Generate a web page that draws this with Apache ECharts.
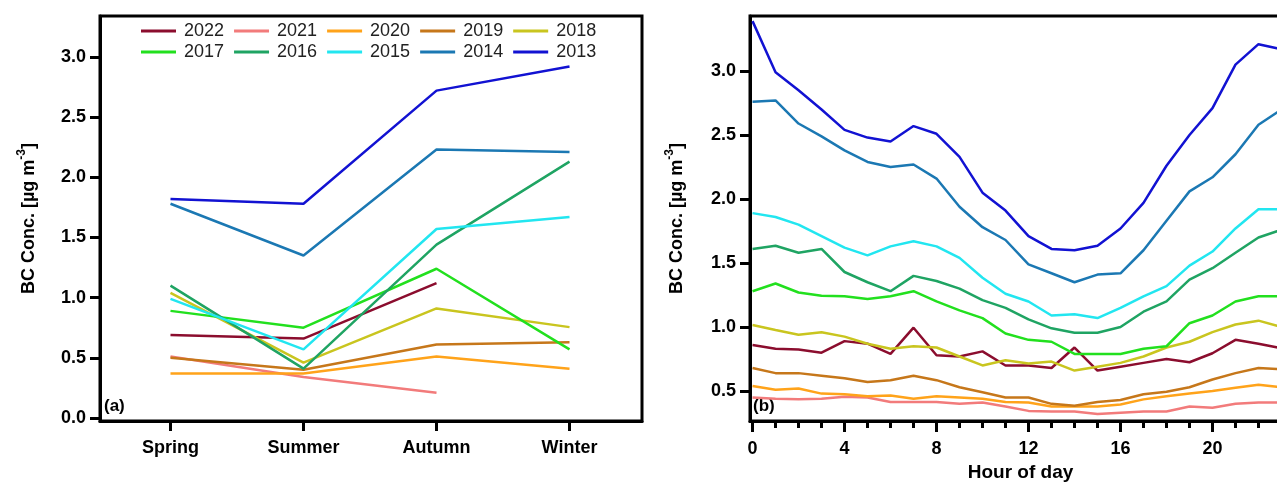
<!DOCTYPE html>
<html>
<head>
<meta charset="utf-8">
<title>BC concentration by season and hour</title>
<script src="https://cdn.jsdelivr.net/npm/echarts@6/dist/echarts.min.js"></script>
<style>
    html, body { margin: 0; padding: 0; background: #fff; overflow: hidden; }
    #bc_chart { width: 1330px; height: 482px; }
</style>
</head>
<body>
<div id="bc_chart"></div>
<script>

// Data
// ------------------------------

var seasons = ['Spring', 'Summer', 'Autumn', 'Winter'];
var years = ['2022', '2021', '2020', '2019', '2018', '2017', '2016', '2015', '2014', '2013'];
var concTicksA = [0, 0.5, 1, 1.5, 2, 2.5, 3];
var concTicksB = [0.5, 1, 1.5, 2, 2.5, 3];
var hourTicks = [0, 4, 8, 12, 16, 20, 24];
var hourMinorTicks = [0, 1, 2, 3, 4, 5, 6, 7, 8, 9, 10, 11, 12, 13, 14, 15, 16, 17, 18, 19, 20, 21, 22, 23, 24];
var hours = [0, 1, 2, 3, 4, 5, 6, 7, 8, 9, 10, 11, 12, 13, 14, 15, 16, 17, 18, 19, 20, 21, 22, 23];

// seasonal mean, Spring..Winter (null = no data)
var season2022 = [0.69, 0.66, 1.12, null];
var season2021 = [0.51, 0.34, 0.21, null];
var season2020 = [0.37, 0.37, 0.51, 0.41];
var season2019 = [0.50, 0.40, 0.61, 0.63];
var season2018 = [1.04, 0.46, 0.91, 0.755];
var season2017 = [0.89, 0.75, 1.24, 0.57];
var season2016 = [1.10, 0.41, 1.44, 2.13];
var season2015 = [0.99, 0.57, 1.57, 1.67];
var season2014 = [1.78, 1.35, 2.23, 2.21];
var season2013 = [1.82, 1.78, 2.72, 2.92];

// diurnal mean, hour 0..23
var hourly2022 = [0.86, 0.83, 0.825, 0.80, 0.89, 0.87, 0.79, 0.995, 0.78, 0.77, 0.81, 0.70, 0.70, 0.68, 0.84, 0.66, 0.69, 0.72, 0.75, 0.725, 0.795, 0.90, 0.87, 0.835];
var hourly2021 = [0.45, 0.44, 0.435, 0.44, 0.455, 0.45, 0.415, 0.415, 0.415, 0.40, 0.41, 0.38, 0.345, 0.34, 0.34, 0.32, 0.33, 0.34, 0.34, 0.38, 0.37, 0.40, 0.41, 0.41];
var hourly2020 = [0.54, 0.51, 0.52, 0.48, 0.475, 0.46, 0.465, 0.44, 0.46, 0.45, 0.44, 0.415, 0.41, 0.38, 0.38, 0.38, 0.395, 0.435, 0.46, 0.48, 0.50, 0.525, 0.55, 0.53];
var hourly2019 = [0.68, 0.64, 0.64, 0.62, 0.60, 0.57, 0.585, 0.62, 0.585, 0.53, 0.49, 0.45, 0.45, 0.40, 0.385, 0.415, 0.43, 0.475, 0.495, 0.53, 0.59, 0.64, 0.68, 0.67];
var hourly2018 = [1.016, 0.977, 0.94, 0.96, 0.925, 0.87, 0.83, 0.85, 0.84, 0.77, 0.70, 0.74, 0.715, 0.73, 0.66, 0.69, 0.72, 0.77, 0.84, 0.885, 0.96, 1.02, 1.05, 1.00];
var hourly2017 = [1.28, 1.34, 1.27, 1.245, 1.24, 1.22, 1.24, 1.28, 1.20, 1.13, 1.07, 0.95, 0.90, 0.885, 0.79, 0.79, 0.79, 0.83, 0.85, 1.03, 1.09, 1.20, 1.24, 1.24];
var hourly2016 = [1.61, 1.635, 1.58, 1.61, 1.43, 1.35, 1.28, 1.40, 1.36, 1.30, 1.21, 1.15, 1.06, 0.99, 0.955, 0.955, 1.00, 1.12, 1.20, 1.37, 1.46, 1.58, 1.70, 1.76];
var hourly2015 = [1.89, 1.86, 1.80, 1.71, 1.62, 1.56, 1.63, 1.67, 1.63, 1.54, 1.385, 1.26, 1.20, 1.09, 1.10, 1.07, 1.15, 1.24, 1.32, 1.48, 1.59, 1.77, 1.92, 1.92];
var hourly2014 = [2.76, 2.77, 2.59, 2.49, 2.38, 2.29, 2.25, 2.27, 2.16, 1.94, 1.78, 1.68, 1.49, 1.42, 1.35, 1.41, 1.42, 1.60, 1.83, 2.06, 2.17, 2.35, 2.58, 2.70];
var hourly2013 = [3.39, 2.99, 2.85, 2.70, 2.54, 2.48, 2.45, 2.57, 2.51, 2.33, 2.05, 1.91, 1.71, 1.61, 1.60, 1.635, 1.77, 1.97, 2.26, 2.50, 2.71, 3.05, 3.21, 3.17];

var yearColors = ['#8b0d2e', '#f27b7b', '#ffa31a', '#c6771a', '#c9c51f', '#22e01e', '#1fa463', '#22e6f0', '#1b78b3', '#1212d2'];


// Setup module
// ------------------------------

var BcConcChart = function() {

    var seasonSeries = {
        '2022': season2022, '2021': season2021, '2020': season2020, '2019': season2019, '2018': season2018,
        '2017': season2017, '2016': season2016, '2015': season2015, '2014': season2014, '2013': season2013
    };
    var hourlySeries = {
        '2022': hourly2022, '2021': hourly2021, '2020': hourly2020, '2019': hourly2019, '2018': hourly2018,
        '2017': hourly2017, '2016': hourly2016, '2015': hourly2015, '2014': hourly2014, '2013': hourly2013
    };

    var fontFamily = 'Arial, "Liberation Sans", sans-serif';

    var yName = 'BC Conc. [µg m{sup|-3}]';
    var yNameStyle = {
        color: '#000',
        fontFamily: fontFamily,
        fontSize: 18,
        fontWeight: 'bold',
        lineHeight: 26,
        rich: {
            sup: {
                fontFamily: fontFamily,
                fontSize: 12,
                fontWeight: 'bold',
                color: '#000',
                verticalAlign: 'top',
                lineHeight: 26
            }
        }
    };

    var axisText = {
        color: '#000',
        fontFamily: fontFamily,
        fontSize: 18,
        fontWeight: 'bold'
    };

    var frameLine = { show: true, onZero: false, lineStyle: { color: '#000', width: 3 } };

    var _bcConcChart = function() {
        if (typeof echarts == 'undefined') {
            console.warn('Warning - echarts.min.js is not loaded.');
            return;
        }

        var chart_element = document.getElementById('bc_chart');
        if (!chart_element) return;

        var chart = echarts.init(chart_element, null, { renderer: 'canvas' });

        // Series: panel (a) then panel (b)
        var series = [];
        years.forEach(function(year, i) {
            var pts = [];
            seasonSeries[year].forEach(function(v, k) {
                if (v !== null) pts.push([k, v]);
            });
            series.push({
                name: year,
                type: 'line',
                xAxisIndex: 0,
                yAxisIndex: 0,
                data: pts,
                symbol: 'none',
                color: yearColors[i],
                lineStyle: { width: 2.5, color: yearColors[i] },
                z: 3 + i
            });
        });
        years.forEach(function(year, i) {
            series.push({
                name: year,
                type: 'line',
                xAxisIndex: 1,
                yAxisIndex: 1,
                data: hours.map(function(h, k) { return [h, hourlySeries[year][k]]; }),
                symbol: 'none',
                color: yearColors[i],
                lineStyle: { width: 2.5, color: yearColors[i] },
                z: 3 + i
            });
        });

        var legendBase = {
            orient: 'horizontal',
            left: 141,
            padding: 0,
            icon: 'rect',
            itemWidth: 35,
            itemHeight: 3,
            itemGap: 10,
            selectedMode: false,
            textStyle: {
                color: '#222',
                fontFamily: fontFamily,
                fontSize: 18,
                padding: [0, 0, 0, 3]
            }
        };

        chart.setOption({
            animation: false,
            textStyle: { fontFamily: fontFamily },

            legend: [
                Object.assign({}, legendBase, { top: 22, data: years.slice(0, 5) }),
                Object.assign({}, legendBase, { top: 43, data: years.slice(5) })
            ],

            grid: [
                { left: 100, top: 16, width: 542, height: 405, show: true, borderColor: '#000', borderWidth: 3, containLabel: false, outerBoundsMode: 'none' },
                { left: 750, top: 16, width: 557, height: 405, show: true, borderColor: '#000', borderWidth: 3, containLabel: false, outerBoundsMode: 'none' }
            ],

            xAxis: [
                {
                    // seasons
                    type: 'value',
                    gridIndex: 0,
                    min: -0.53,
                    max: 3.545,
                    axisLine: frameLine,
                    axisTick: { show: true, customValues: [0, 1, 2, 3], length: 10, lineStyle: { color: '#000', width: 3 } },
                    axisLabel: Object.assign({
                        customValues: [0, 1, 2, 3],
                        margin: 18,
                        formatter: function(v) { return seasons[Math.round(v)]; }
                    }, axisText),
                    splitLine: { show: false }
                },
                {
                    // hours, major ticks
                    type: 'value',
                    gridIndex: 1,
                    min: -0.11,
                    max: 24.11,
                    name: 'Hour of day',
                    nameLocation: 'middle',
                    nameGap: 41,
                    nameTextStyle: { color: '#000', fontFamily: fontFamily, fontSize: 19, fontWeight: 'bold', padding: [0, 16, 0, 0] },
                    axisLine: frameLine,
                    axisTick: { show: true, customValues: hourTicks, length: 11, lineStyle: { color: '#000', width: 3 } },
                    axisLabel: Object.assign({
                        customValues: hourTicks.slice(0, 6),
                        margin: 19
                    }, axisText),
                    splitLine: { show: false }
                },
                {
                    // hours, minor ticks
                    type: 'value',
                    gridIndex: 1,
                    position: 'bottom',
                    offset: 0,
                    min: -0.11,
                    max: 24.11,
                    axisLine: { show: false, onZero: false },
                    axisTick: { show: true, customValues: hourMinorTicks, length: 7, lineStyle: { color: '#000', width: 3 } },
                    axisLabel: { show: false },
                    splitLine: { show: false }
                }
            ],

            yAxis: [
                {
                    type: 'value',
                    gridIndex: 0,
                    min: -0.025,
                    max: 3.34,
                    name: yName,
                    nameLocation: 'middle',
                    nameGap: 58,
                    nameTextStyle: yNameStyle,
                    axisLine: frameLine,
                    axisTick: { show: true, customValues: concTicksA, length: 10, lineStyle: { color: '#000', width: 3 } },
                    axisLabel: Object.assign({
                        customValues: concTicksA,
                        margin: 14,
                        formatter: function(v) { return v.toFixed(1); }
                    }, axisText),
                    splitLine: { show: false }
                },
                {
                    type: 'value',
                    gridIndex: 1,
                    min: 0.266,
                    max: 3.43,
                    name: yName,
                    nameLocation: 'middle',
                    nameGap: 60,
                    nameTextStyle: yNameStyle,
                    axisLine: frameLine,
                    axisTick: { show: true, customValues: concTicksB, length: 10, lineStyle: { color: '#000', width: 3 } },
                    axisLabel: Object.assign({
                        customValues: concTicksB,
                        margin: 14,
                        formatter: function(v) { return v.toFixed(1); }
                    }, axisText),
                    splitLine: { show: false }
                }
            ],

            // Panel tags
            graphic: [
                { type: 'text', left: 104, top: 398, style: { text: '(a)', font: 'bold 17px Arial, "Liberation Sans", sans-serif', fill: '#000' } },
                { type: 'text', left: 753, top: 398, style: { text: '(b)', font: 'bold 17px Arial, "Liberation Sans", sans-serif', fill: '#000' } }
            ],

            series: series
        });
    };

    return {
        init: function() {
            _bcConcChart();
        }
    };
}();


// Initialize module
// ------------------------------

document.addEventListener('DOMContentLoaded', function() {
    BcConcChart.init();
});
</script>
</body>
</html>
